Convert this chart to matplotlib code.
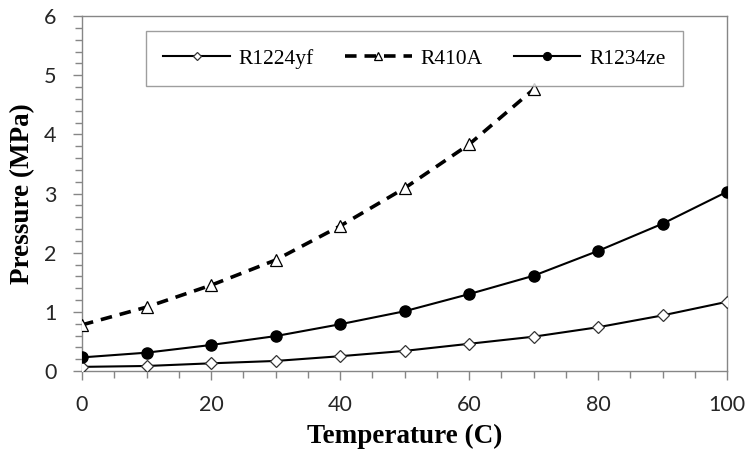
"""
Saturation pressure vs temperature for three refrigerants.
"""

import matplotlib
matplotlib.use("Agg")
import matplotlib.pyplot as plt
from matplotlib.ticker import MultipleLocator

# data
temp = [0, 10, 20, 30, 40, 50, 60, 70, 80, 90, 100]
temp_r410a = [0, 10, 20, 30, 40, 50, 60, 70]

p_r1224yf = [0.07, 0.085, 0.13, 0.17, 0.25, 0.34, 0.46, 0.58, 0.74, 0.94, 1.17]
p_r410a = [0.78, 1.08, 1.45, 1.875, 2.45, 3.09, 3.83, 4.76]
p_r1234ze = [0.23, 0.31, 0.44, 0.59, 0.79, 1.01, 1.30, 1.61, 2.03, 2.49, 3.03]

grey = "#868686"
serif = "Liberation Serif"
tick_font = "Lato"

fig = plt.figure(figsize=(7.47, 4.61), dpi=100)
ax = fig.add_axes([0.1098, 0.1952, 0.8635, 0.770])

ax.plot(temp, p_r1224yf, color="black", lw=1.5, marker="D", ms=6.5,
        mfc="white", mec="#333333", mew=0.9, label="R1224yf", zorder=3)
ax.plot(temp_r410a, p_r410a, color="black", lw=2.6, ls=(0, (3.2, 2.2)), marker="^", ms=9,
        mfc="white", mec="black", mew=0.9, label="R410A", zorder=3)
ax.plot(temp, p_r1234ze, color="black", lw=1.5, marker="o", ms=8,
        mfc="black", mec="black", label="R1234ze", zorder=3)

ax.set_xlim(0, 100)
ax.set_ylim(0, 6)
ax.xaxis.set_major_locator(MultipleLocator(20))
ax.xaxis.set_minor_locator(MultipleLocator(5))
ax.yaxis.set_major_locator(MultipleLocator(1))
ax.yaxis.set_minor_locator(MultipleLocator(0.2))

for s in ax.spines.values():
    s.set_color(grey)
    s.set_linewidth(1.0)

ax.tick_params(which="major", direction="out", length=6.5, width=1.0, color=grey,
               labelsize=15.5, labelcolor="#262626")
ax.tick_params(axis="x", which="major", pad=11)
ax.tick_params(axis="y", which="major", pad=12)
ax.tick_params(which="minor", direction="out", length=5, width=1.0, color=grey)
for lab in ax.get_xticklabels() + ax.get_yticklabels():
    lab.set_fontfamily(tick_font)

ax.set_xlabel("Temperature (C)", fontfamily=serif, fontweight="bold", fontsize=19.5, labelpad=6)
ax.set_ylabel("Pressure (MPa)", fontfamily=serif, fontweight="bold", fontsize=19.5, labelpad=6)

leg = ax.legend(loc="upper left", bbox_to_anchor=(0.0992, 0.957), ncol=3,
                prop={"family": serif, "size": 15.5}, frameon=True, fancybox=False,
                edgecolor=grey, handlelength=3.1, columnspacing=1.45,
                handletextpad=0.4, borderpad=0.8, borderaxespad=0,
                markerscale=0.7)
leg.get_frame().set_linewidth(1.0)

fig.savefig("out.png", dpi=100)
